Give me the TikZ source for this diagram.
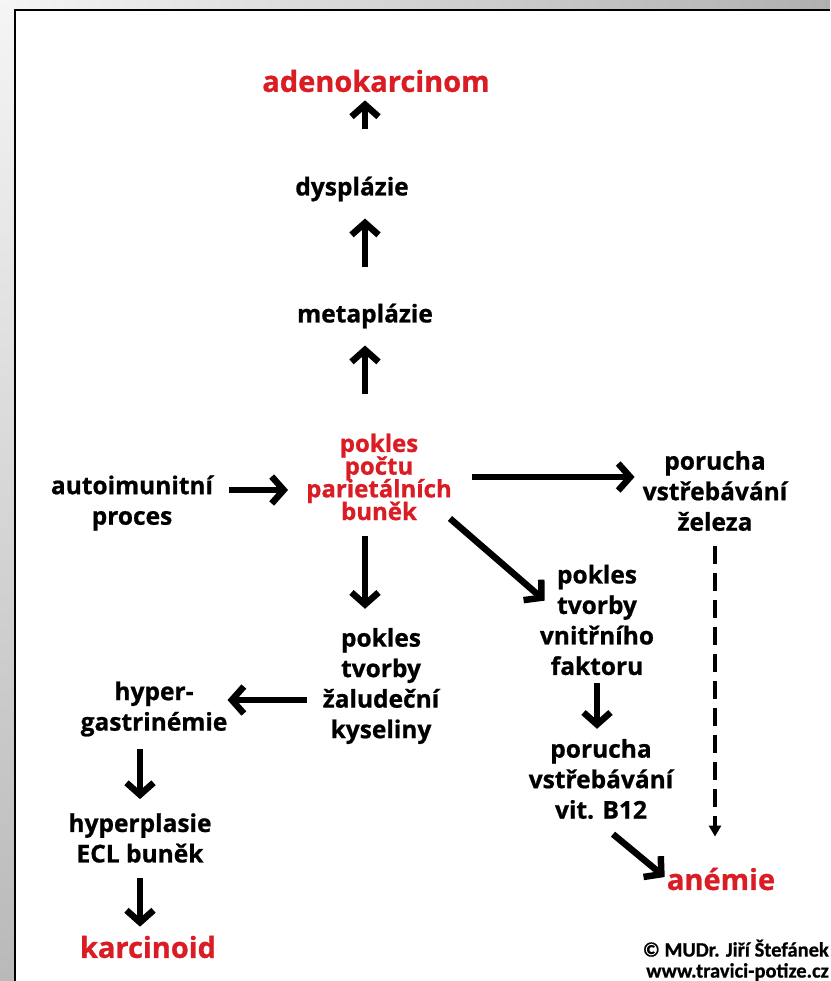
\documentclass[tikz,border=0pt]{standalone}
\usepackage{fontspec}
\setmainfont{Open Sans}[BoldFeatures={FakeBold=0.8}]
\newfontfamily\notefont{Carlito}[BoldFeatures={FakeBold=0.8}]
\usepackage{xcolor}
\usetikzlibrary{arrows.meta}

\definecolor{darkred}{RGB}{218,28,36}
\definecolor{framegray}{RGB}{176,176,176}
\newcommand\tightlines{\lineskiplimit=-10pt\relax}

\begin{document}
\begin{tikzpicture}[x=1pt, y=-1pt,
		txt/.style={font=\bfseries\fontsize{24.5}{30.5}\selectfont, align=center, inner sep=0pt},
		redtxt/.style={txt, text=darkred, font={\bfseries\fontsize{24}{22.7}\selectfont\tightlines}},
		bigred/.style={txt, text=darkred, font=\bfseries\fontsize{29}{34}\selectfont},
		note/.style={font=\notefont\bfseries\fontsize{20.5}{21}\selectfont, align=right, inner sep=0pt, anchor=south east},
		arr/.style={line width=6.5pt, -{Straight Barb[length=12pt, width=27pt]}},
		dasharr/.style={line width=4pt, dash pattern=on 18pt off 9pt, -{Triangle[length=11pt, width=12pt]}}]
			\useasboundingbox (0,0) rectangle (830,981);

			% frame
			\shade[left color=gray!8, right color=framegray] (0,0) rectangle (830,10);
			\shade[top color=gray!8, bottom color=gray!55] (0,0) rectangle (15,981);
			\fill[white] (15,10) rectangle (830,981);
			\draw[line width=2.5pt] (15,981) -- (15,10) -- (830,10);

			% main column
			\node[bigred] (adeno) at (376,81) {adenokarcinom};
			\node[txt] (dys) at (352,189) {dysplázie};
			\node[txt] (meta) at (365,316) {metaplázie};
			\node[redtxt] (parie) at (379,477) {pokles\\počtu\\parietálních\\buněk};
			\node[txt] (kyselina) at (381,686) {pokles\\tvorby\\žaludeční\\kyseliny};

			% left side
			\node[txt] (auto) at (132,503) {autoimunitní\\proces};
			\node[txt] (gastrin) at (154,709) {hyper-\\gastrinémie};
			\node[txt] (ecl) at (140,838) {hyperplasie\\ECL buněk};
			\node[bigred] (karcinoid) at (148,947) {karcinoid};

			% right side
			\node[txt] (zelezo) at (715,491) {porucha\\vstřebávání\\železa};
			\node[txt] (faktor) at (597,620) {pokles\\tvorby\\vnitřního\\faktoru};
			\node[txt] (b12) at (601,779) {porucha\\vstřebávání\\vit. B12};
			\node[bigred] (anemie) at (721,879) {anémie};

			\node[note] (autor) at (829,981) {© MUDr. Jiří Štefánek\\www.travici-potize.cz};

			\begin{scope}[arr]
				\draw[shorten <=47pt, shorten >=8pt] (dys.north -| meta) -- (adeno.south -| meta);
				\draw[shorten <=36pt, shorten >=17pt] (meta.north) -- (dys.south -| meta);
				\draw[shorten <=40pt, shorten >=17pt] (parie.north -| meta) -- (meta.south);
				\draw[shorten <=16pt, shorten >=19pt] (parie.south -| meta) -- (kyselina.north -| meta);
				\draw[shorten <=16pt, shorten >=18pt] ([shift={(0,-13)}]auto.east) -- ([shift={(0,-13)}]auto.east -| parie.west);
				\draw[shorten <=20pt, shorten >=8pt] (parie.east) -- (parie.east -| zelezo.west);
				\draw ([shift={(-2,-2)}]parie.south east) -- ([shift={(5,36)}]faktor.north west);
				\draw[shorten <=8pt, shorten >=10pt] (faktor.south) -- (b12.north -| faktor);
				\draw ([shift={(12,15)}]b12.south) -- ([shift={(-2,-2)}]anemie.west);
				\draw ([shift={(-16,14)}]kyselina.west) -- ([shift={(0,-9)}]gastrin.east);
				\draw[shorten <=12pt, shorten >=14pt] (gastrin.south -| ecl) -- (ecl.north);
				\draw[shorten <=15pt, shorten >=9pt] (ecl.south) -- (karcinoid.north -| ecl);
			\end{scope}
			\draw[dasharr, shorten <=15pt, shorten >=31pt] (zelezo.south) -- (anemie.north -| zelezo);
		\end{tikzpicture}
\end{document}
